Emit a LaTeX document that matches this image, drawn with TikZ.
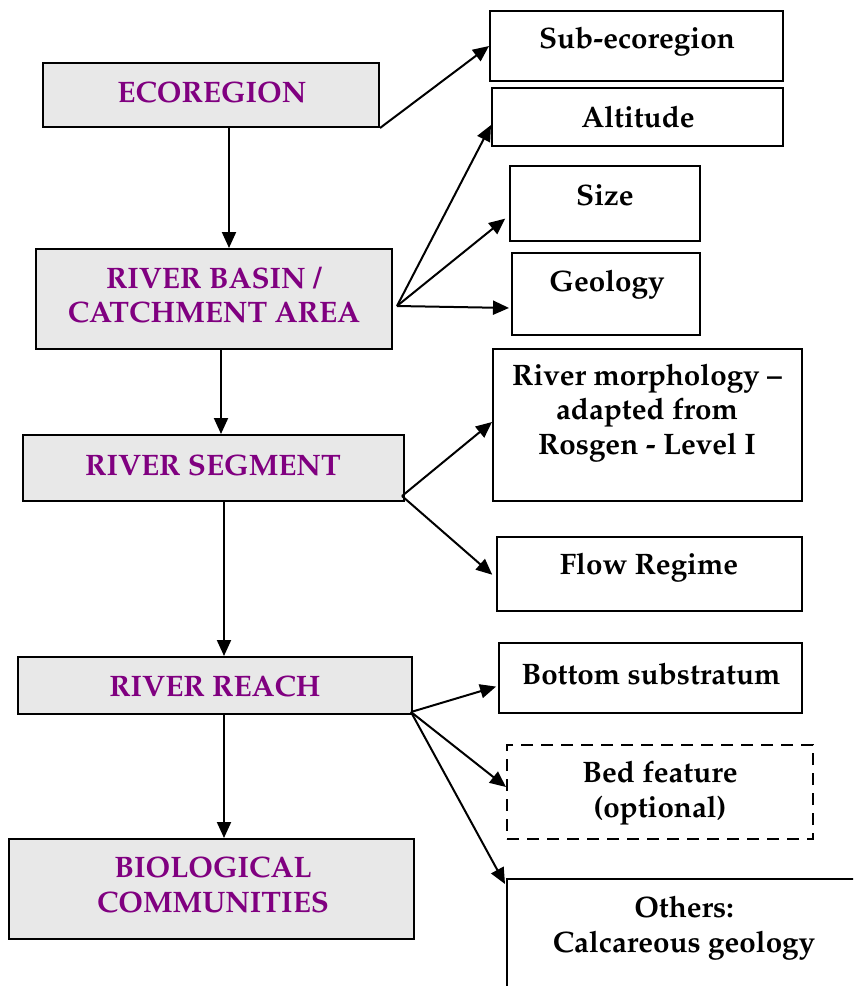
\documentclass[tikz,border=0pt]{standalone}
\usepackage[T1]{fontenc}
\usepackage{mathpazo}
\usetikzlibrary{arrows.meta,fit}
\definecolor{boxgray}{HTML}{E8E8E8}
\definecolor{levelpurple}{HTML}{800080}

\begin{document}
\begin{tikzpicture}[x=0.5pt,y=-0.5pt,
		level/.style={draw,line width=1pt,fill=boxgray,inner sep=0pt},
		factor/.style={draw,line width=1pt,fill=white,inner sep=0pt},
		leveltxt/.style={text=levelpurple,font=\fontsize{14.8pt}{17.3pt}\selectfont\bfseries,align=center},
		factortxt/.style={font=\fontsize{14.8pt}{17.3pt}\selectfont\bfseries,align=center},
		arr/.style={line width=1pt,-{Triangle[length=8pt,width=7pt]}}]
		\useasboundingbox (0,0) rectangle (853,986);
		\clip (0,0) rectangle (853,986);
		% levels
		\node[level,fit={(43,63) (379,127)}] (eco) {};
		\node[level,fit={(36,249) (392,349)}] (basin) {};
		\node[level,fit={(23,435) (404,501)}] (segment) {};
		\node[level,fit={(18,657) (412,714)}] (reach) {};
		\node[level,fit={(9,839) (414,939)}] (bio) {};
		\node[leveltxt] (ecotxt) at (212,92) {ECOREGION};
		\node[leveltxt] (basintxt) at (214,295) {RIVER BASIN /\\CATCHMENT AREA};
		\node[leveltxt] (segmenttxt) at (213,465) {RIVER SEGMENT};
		\node[leveltxt] (reachtxt) at (215,686) {RIVER REACH};
		\node[leveltxt] (biotxt) at (213,885) {BIOLOGICAL\\COMMUNITIES};
		% factors
		\node[factor,fit={(490,11) (783,81)}] (sub) {};
		\node[factor,fit={(492,88) (783,146)}] (alt) {};
		\node[factor,fit={(510,166) (700,241)}] (size) {};
		\node[factor,fit={(512,253) (700,335)}] (geo) {};
		\node[factor,fit={(493,349) (802,501)}] (morph) {};
		\node[factor,fit={(497,537) (802,611)}] (flow) {};
		\node[factor,fit={(499,643) (802,713)}] (bottom) {};
		\node[factor,dash pattern=on 6pt off 4pt,fit={(507,745) (813,839)}] (bed) {};
		\node[factor,fit={(507,879) (900,1050)}] (others) {};
		\node[factortxt] (subtxt) at (637,42) {Sub-ecoregion};
		\node[factortxt] (alttxt) at (638,117) {Altitude};
		\node[factortxt] (sizetxt) at (605,195) {Size};
		\node[factortxt] (geotxt) at (607,285) {Geology};
		\node[factortxt] (morphtxt) at (647,413) {River morphology --\\adapted from\\Rosgen - Level I};
		\node[factortxt] (flowtxt) at (649,568) {Flow Regime};
		\node[factortxt] (bottomtxt) at (651,674) {Bottom substratum};
		\node[factortxt] (bedtxt) at (660,793) {Bed feature\\(optional)};
		\node[factortxt] (otherstxt) at (684,928) {Others:\\Calcareous geology};
		% down the levels
		\draw[arr] ([xshift=9pt]eco.south) -- ([xshift=9pt]eco.south |- basin.north);
		\draw[arr] ([xshift=3.5pt]basin.south) -- ([xshift=3.5pt]basin.south |- segment.north);
		\draw[arr] ([xshift=5.25pt]segment.south) -- ([xshift=5.25pt]segment.south |- reach.north);
		\draw[arr] ([xshift=4.5pt]reach.south) -- ([xshift=4.5pt]reach.south |- bio.north);
		% out to the factors
		\coordinate (basinfork) at (397,306);
		\coordinate (segmentfork) at (402,496);
		\coordinate (reachfork) at (411,712);
		\draw[arr] (eco.south east) -- (sub.west);
		\draw[arr] (basinfork) -- ([yshift=-4pt]alt.west);
		\draw[arr,shorten >=2.5pt] (basinfork) -- ([yshift=-6pt]size.west);
		\draw[arr,shorten >=1pt] (basinfork) -- ([yshift=-7pt]geo.west);
		\draw[arr] (segmentfork) -- ([yshift=1.5pt]morph.west);
		\draw[arr,shorten >=2.5pt] (segmentfork) -- ([yshift=-2pt]flow.west);
		\draw[arr,shorten >=1pt] (reachfork) -- ([yshift=-4pt]bottom.west);
		\draw[arr] (reachfork) -- ([yshift=2.5pt]bed.west);
		\draw[arr] (reachfork) -- ([xshift=-0.5pt,yshift=-3pt]others.north west);
\end{tikzpicture}
\end{document}
